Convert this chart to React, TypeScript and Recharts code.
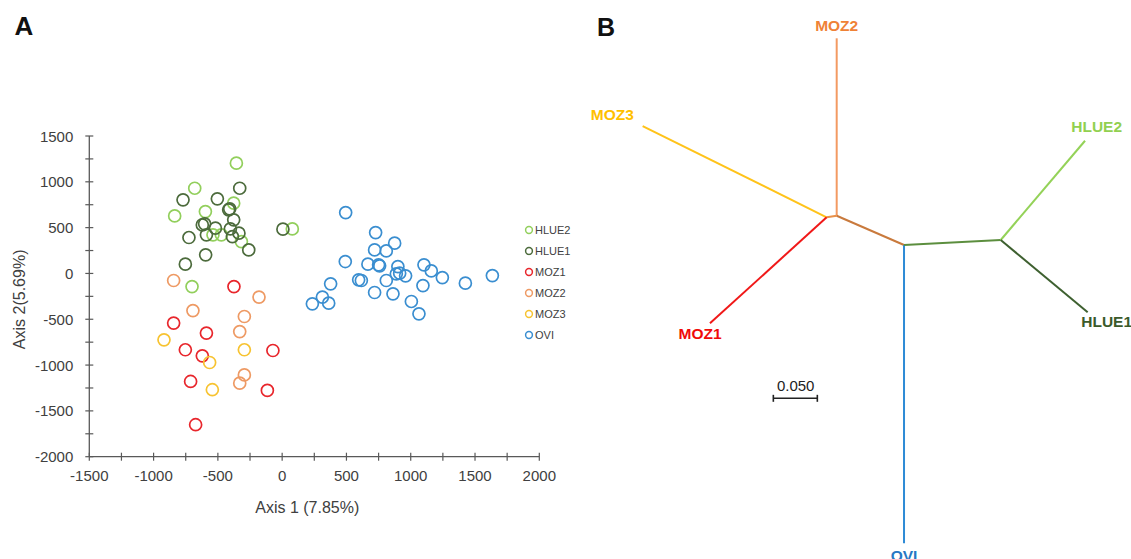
import React from 'react';
import { ScatterChart, Scatter, XAxis, YAxis, Legend, Label } from 'recharts';

const FONT = '"Liberation Sans", Arial, Helvetica, sans-serif';

// ---------- Panel A data ----------
const groups = ['HLUE2', 'HLUE1', 'MOZ1', 'MOZ2', 'MOZ3', 'OVI'];

const hlue2 = [
  { x: -356, y: 1203 }, { x: -680, y: 930 }, { x: -836, y: 628 }, { x: -597, y: 675 },
  { x: -377, y: 767 }, { x: -538, y: 421 }, { x: -473, y: 421 }, { x: -317, y: 348 },
  { x: 79, y: 486 }, { x: -701, y: -143 },
];
const hlue1 = [
  { x: -330, y: 930 }, { x: -771, y: 803 }, { x: -504, y: 814 }, { x: -416, y: 694 },
  { x: -408, y: 705 }, { x: -377, y: 585 }, { x: -621, y: 530 }, { x: -603, y: 541 },
  { x: -519, y: 494 }, { x: -403, y: 486 }, { x: -336, y: 439 }, { x: -387, y: 402 },
  { x: -589, y: 421 }, { x: -725, y: 392 }, { x: -260, y: 257 }, { x: -595, y: 203 },
  { x: 6, y: 483 }, { x: -753, y: 101 },
];
const moz1 = [
  { x: -375, y: -143 }, { x: -844, y: -542 }, { x: -589, y: -651 }, { x: -753, y: -833 },
  { x: -621, y: -899 }, { x: -72, y: -841 }, { x: -712, y: -1179 }, { x: -115, y: -1277 },
  { x: -673, y: -1651 },
];
const moz2 = [
  { x: -844, y: -77 }, { x: -180, y: -258 }, { x: -694, y: -405 }, { x: -294, y: -470 },
  { x: -330, y: -634 }, { x: -294, y: -1107 }, { x: -330, y: -1198 },
];
const moz3 = [
  { x: -919, y: -724 }, { x: -294, y: -833 }, { x: -564, y: -972 }, { x: -543, y: -1269 },
];
const ovi = [
  { x: 494, y: 664 }, { x: 727, y: 446 }, { x: 875, y: 330 }, { x: 719, y: 257 },
  { x: 810, y: 246 }, { x: 491, y: 130 }, { x: 667, y: 101 }, { x: 750, y: 94 },
  { x: 758, y: 83 }, { x: 900, y: 75 }, { x: 1103, y: 94 }, { x: 1160, y: 28 },
  { x: 1246, y: -45 }, { x: 888, y: -4 }, { x: 914, y: 3 }, { x: 960, y: -26 },
  { x: 595, y: -70 }, { x: 616, y: -77 }, { x: 810, y: -77 }, { x: 377, y: -113 },
  { x: 1095, y: -132 }, { x: 1425, y: -106 }, { x: 1635, y: -23 }, { x: 313, y: -258 },
  { x: 235, y: -332 }, { x: 362, y: -324 }, { x: 719, y: -208 }, { x: 862, y: -222 },
  { x: 1005, y: -306 }, { x: 1064, y: -441 },
];
const groupData: Record<string, { x: number; y: number }[]> = {
  HLUE2: hlue2, HLUE1: hlue1, MOZ1: moz1, MOZ2: moz2, MOZ3: moz3, OVI: ovi,
};

const xTicks = [-1500, -1250, -1000, -750, -500, -250, 0, 250, 500, 750, 1000, 1250, 1500, 1750, 2000];
const yTicks = [-2000, -1750, -1500, -1250, -1000, -750, -500, -250, 0, 250, 500, 750, 1000, 1250, 1500];
const xLabelled = [-1500, -1000, -500, 0, 500, 1000, 1500, 2000];
const yLabelled = [-2000, -1500, -1000, -500, 0, 500, 1000, 1500];

// ---------- Panel B data (tree, branch-length units) ----------
const nodeA = { x: 0.2917, y: 0.3901 };
const nodeB = { x: 0.2803, y: 0.3883 };
const nodeC = { x: 0.3682, y: 0.3568 };
const nodeD = { x: 0.4781, y: 0.3625 };
const tipMOZ2 = { x: 0.2917, y: 0.5917 };
const tipMOZ3 = { x: 0.0712, y: 0.492 };
const tipMOZ1 = { x: 0.1477, y: 0.2678 };
const tipOVI = { x: 0.3682, y: 0.0178 };
const tipHLUE2 = { x: 0.5739, y: 0.4753 };
const tipHLUE1 = { x: 0.5769, y: 0.2803 };

const branches = [
  { id: 'MOZ2', from: nodeA, to: tipMOZ2 },
  { id: 'AB', from: nodeB, to: nodeA },
  { id: 'MOZ3', from: nodeB, to: tipMOZ3 },
  { id: 'MOZ1', from: nodeB, to: tipMOZ1 },
  { id: 'AC', from: nodeA, to: nodeC },
  { id: 'OVI', from: nodeC, to: tipOVI },
  { id: 'CD', from: nodeC, to: nodeD },
  { id: 'HLUE2', from: nodeD, to: tipHLUE2 },
  { id: 'HLUE1', from: nodeD, to: tipHLUE1 },
];

const treeLabels = [
  { name: 'MOZ2', x: 0.2917, y: 0.6057 },
  { name: 'MOZ3', x: 0.0367, y: 0.5053 },
  { name: 'HLUE2', x: 0.5871, y: 0.492 },
  { name: 'HLUE1', x: 0.5985, y: 0.2697 },
  { name: 'MOZ1', x: 0.1364, y: 0.2557 },
  { name: 'OVI', x: 0.3682, y: 0.0045 },
];
const scaleBar = [{ x: 0.2197, y: 0.1826 }, { x: 0.2697, y: 0.1826 }];
const scaleLabel = [{ name: '0.050', x: 0.2451, y: 0.1977 }];

const TREE_W = 551 / 880;
const TREE_H = 559 / 880;

// ---------- Styles ----------
const scatterColors: Record<string, string> = {
  HLUE2: '#92CF5C', HLUE1: '#4C6B3C', MOZ1: '#E8262C', MOZ2: '#EE9A64', MOZ3: '#F7C331', OVI: '#3A8ED0',
};
const branchColors: Record<string, string> = {
  MOZ2: '#F39A62', AB: '#E99048', MOZ3: '#FFC31A', MOZ1: '#F01818', AC: '#C97A3D',
  OVI: '#2E8BD6', CD: '#5C8E3E', HLUE2: '#94D258', HLUE1: '#3E6030',
};
const labelColors: Record<string, string> = {
  MOZ2: '#EF8236', MOZ3: '#FFC000', HLUE2: '#92D050', HLUE1: '#3B5A2A', MOZ1: '#F00A0A', OVI: '#2778C4',
};
const AXIS = '#595959';
const TEXT = '#404040';
const X_MARGIN = 19;
const Y_MARGIN = 16;

const XTick = (props: any) => {
  const { x, y, payload } = props;
  const v = payload.value;
  const ay = y - X_MARGIN;
  return (
    <g>
      <line x1={x} x2={x} y1={ay - 4} y2={ay + 4} stroke={AXIS} strokeWidth={1.2} />
      {xLabelled.includes(v) && (
        <text x={x} y={y} textAnchor="middle" dominantBaseline="central" fill={TEXT} fontSize={15} fontFamily={FONT}>
          {v}
        </text>
      )}
    </g>
  );
};

const YTick = (props: any) => {
  const { x, y, payload } = props;
  const v = payload.value;
  const ax = x + Y_MARGIN;
  return (
    <g>
      <line x1={ax - 4} x2={ax + 4} y1={y} y2={y} stroke={AXIS} strokeWidth={1.2} />
      {yLabelled.includes(v) && (
        <text x={x} y={y} textAnchor="end" dominantBaseline="central" fill={TEXT} fontSize={15} fontFamily={FONT}>
          {v}
        </text>
      )}
    </g>
  );
};

const ring = (color: string) => (p: any) => (
  <circle cx={p.cx} cy={p.cy} r={6} fill="none" stroke={color} strokeWidth={1.7} />
);

const LegendBox = () => (
  <div style={{ fontFamily: FONT, fontSize: 11, color: TEXT }}>
    {groups.map((g) => (
      <div key={g} style={{ height: 21, display: 'flex', alignItems: 'center' }}>
        <svg width={10} height={10} style={{ marginRight: 1 }}>
          <circle cx={5} cy={5} r={3.4} fill="none" stroke={scatterColors[g]} strokeWidth={1.5} />
        </svg>
        <span>{g}</span>
      </div>
    ))}
  </div>
);

const treeLabelShape = (p: any) => (
  <text x={p.cx} y={p.cy} textAnchor="middle" dominantBaseline="central" fill={labelColors[p.payload.name]}
    fontSize={15.5} fontWeight="bold" fontFamily={FONT}>
    {p.payload.name}
  </text>
);

export default function App() {
  return (
    <div style={{ position: 'absolute', left: 0, top: 0, width: 1131, height: 559, background: '#fff', overflow: 'hidden' }}>
      <div style={{ position: 'absolute', left: 0, top: 0 }}>
        <ScatterChart width={600} height={559} margin={{ top: 136, right: 60.7, bottom: 72.3, left: 29.3 }}>
          <XAxis type="number" dataKey="x" domain={[-1500, 2000]} ticks={xTicks} interval={0} allowDataOverflow
            height={30} tickSize={0} tickMargin={X_MARGIN} tick={XTick} stroke={AXIS} strokeWidth={1.3}>
            <Label content={(p: any) => {
              const vb = p.viewBox || {};
              return (
                <text x={vb.x + vb.width / 2 - 7} y={vb.y + 51} textAnchor="middle" dominantBaseline="central"
                  fill={TEXT} fontSize={16} fontFamily={FONT}>Axis 1 (7.85%)</text>
              );
            }} />
          </XAxis>
          <YAxis type="number" dataKey="y" domain={[-2000, 1500]} ticks={yTicks} interval={0} allowDataOverflow
            width={60} tickSize={0} tickMargin={Y_MARGIN} tick={YTick} stroke={AXIS} strokeWidth={1.3}>
            <Label content={(p: any) => {
              const vb = p.viewBox || {};
              const cx = vb.x - 10;
              const cy = vb.y + vb.height / 2 + 3;
              return (
                <text x={cx} y={cy} transform={`rotate(-90 ${cx} ${cy})`} textAnchor="middle" dominantBaseline="central"
                  fill={TEXT} fontSize={16} fontFamily={FONT}>Axis 2(5.69%)</text>
              );
            }} />
          </YAxis>
          {groups.map((g) => (
            <Scatter key={g} name={g} data={groupData[g]} shape={ring(scatterColors[g])} fill={scatterColors[g]}
              isAnimationActive={false} />
          ))}
          <Legend layout="vertical" align="center" verticalAlign="middle" content={LegendBox}
            wrapperStyle={{ left: 524, top: 219, width: 80 }} />
        </ScatterChart>
      </div>

      <div style={{ position: 'absolute', left: 580, top: 0 }}>
        <ScatterChart width={551} height={559} margin={{ top: 0, right: 0, bottom: 0, left: 0 }}>
          <XAxis type="number" dataKey="x" domain={[0, TREE_W]} allowDataOverflow hide />
          <YAxis type="number" dataKey="y" domain={[0, TREE_H]} allowDataOverflow hide />
          {branches.map((b) => (
            <Scatter key={b.id} data={[b.from, b.to]} line={{ stroke: branchColors[b.id], strokeWidth: 2 }}
              stroke={branchColors[b.id]} shape={() => <g />} isAnimationActive={false} />
          ))}
          <Scatter data={scaleBar} line={{ stroke: '#222', strokeWidth: 1.6 }} stroke="#222"
            shape={(p: any) => <line x1={p.cx} x2={p.cx} y1={p.cy - 3.5} y2={p.cy + 3.5} stroke="#222" strokeWidth={1.6} />}
            isAnimationActive={false} />
          <Scatter data={scaleLabel} isAnimationActive={false}
            shape={(p: any) => (
              <text x={p.cx} y={p.cy} textAnchor="middle" dominantBaseline="central" fill="#222" fontSize={15} fontFamily={FONT}>
                {p.payload.name}
              </text>
            )} />
          <Scatter data={treeLabels} shape={treeLabelShape} isAnimationActive={false} />
        </ScatterChart>
      </div>

      <svg width={1131} height={559} style={{ position: 'absolute', left: 0, top: 0, pointerEvents: 'none' }}>
        <text x={24} y={26} textAnchor="middle" dominantBaseline="central" fontSize={26} fontWeight="bold" fontFamily={FONT} fill="#111">A</text>
        <text x={606} y={27} textAnchor="middle" dominantBaseline="central" fontSize={25} fontWeight="bold" fontFamily={FONT} fill="#111">B</text>
      </svg>
    </div>
  );
}
